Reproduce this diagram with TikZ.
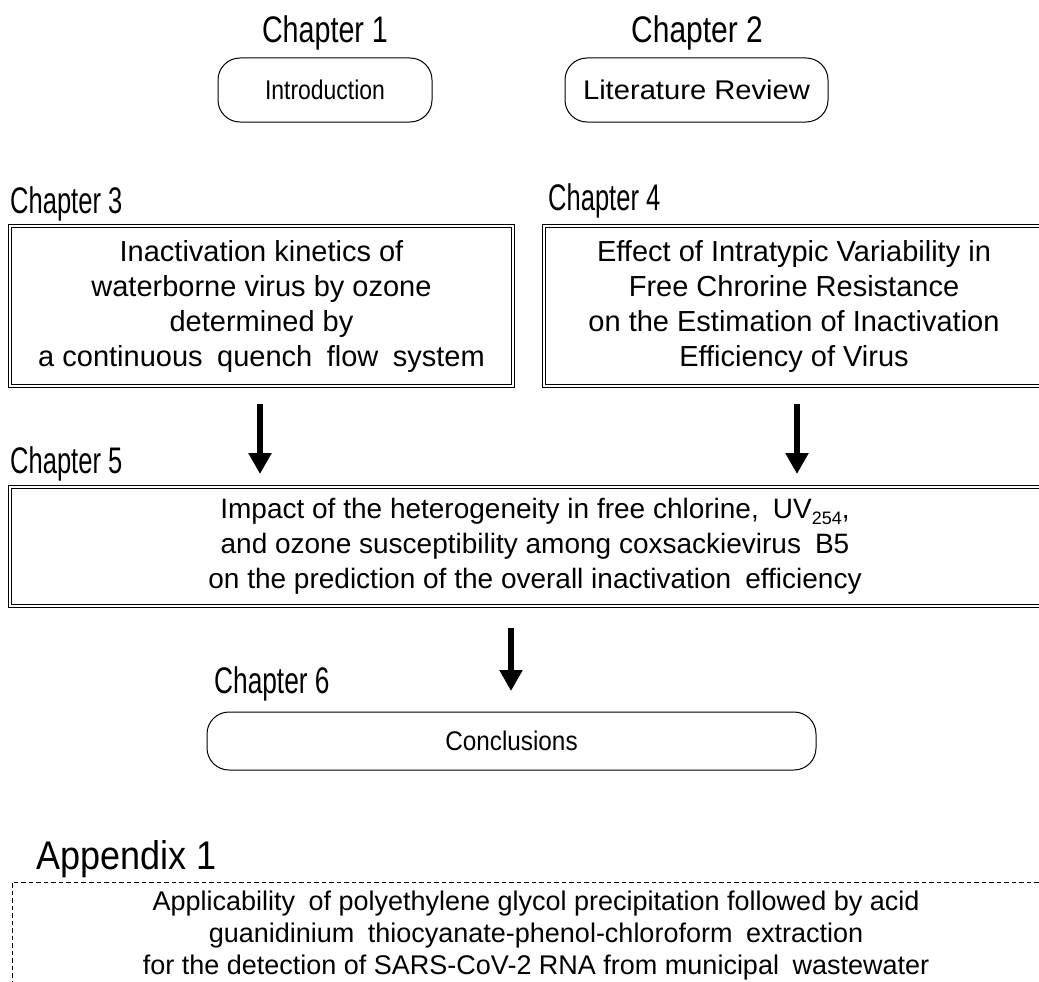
\documentclass[tikz,border=0pt]{standalone}
\usepackage{fontspec}
\setmainfont{Liberation Sans}
\usetikzlibrary{arrows.meta}
\newcommand{\wsp}{\hskip 0.5em\relax}
\newcommand{\hsc}[2]{\scalebox{#1}[1]{#2}}
\newcommand{\subnum}[1]{\raisebox{-0.22em}{\fontsize{18}{18}\selectfont #1}}
\begin{document}
\begin{tikzpicture}[x=1pt,y=-1pt,
  lab/.style={font=\fontsize{37}{42}\selectfont, inner sep=0pt},
  txt/.style={font=\fontsize{28}{35}\selectfont, align=center, inner sep=0pt},
  stxt/.style={font=\fontsize{27}{30}\selectfont, inner sep=0pt},
  rbox/.style={stxt, draw, line width=1pt, rounded corners=22pt},
  dbox/.style={txt, draw=black, double=white, line width=1.1pt, double distance=1.6pt},
  abox/.style={txt, draw, dash pattern=on 4.5pt off 3pt, line width=0.8pt},
  arr/.style={line width=6pt, -{Triangle[width=22pt,length=21pt]}}
]
\useasboundingbox (0,0) rectangle (1039,982);
\clip (0,0) rectangle (1039,982);

% top row
\node[lab, anchor=base] (l1) at (325,43) {\hsc{0.775}{Chapter 1}};
\node[rbox, minimum width=214pt, minimum height=64pt] (c1) at (325,90) {\hsc{0.85}{Introduction}};
\node[lab, anchor=base] (l2) at (697,43) {\hsc{0.81}{Chapter 2}};
\node[rbox, minimum width=263pt, minimum height=64pt] (c2) at (696.5,90) {\hsc{1.08}{Literature Review}};

% chapters 3 and 4
\node[lab, anchor=base west] (l3) at (10,213) {\hsc{0.69}{Chapter 3}};
\node[dbox, font=\fontsize{29}{35}\selectfont, minimum width=503pt, minimum height=160pt] (c3) at (261.5,306)
  {Inactivation kinetics of\\ waterborne virus by ozone\\ determined by\\
   a continuous\wsp quench\wsp flow\wsp system};
\node[lab, anchor=base west] (l4) at (548,210) {\hsc{0.69}{Chapter 4}};
\node[dbox, font=\fontsize{29}{35}\selectfont, minimum width=500pt, minimum height=160pt] (c4) at (794,306)
  {Effect of Intratypic Variability in\\ Free Chrorine Resistance\\
   on the Estimation of Inactivation\\ Efficiency of Virus};

% arrows to chapter 5
\coordinate (a1s) at (260,404);
\coordinate (a1e) at (260,474);
\coordinate (a2s) at (797,404);
\coordinate (a2e) at (797,474);
\draw[arr] (a1s) -- (a1e);
\draw[arr] (a2s) -- (a2e);

% chapter 5
\node[lab, anchor=base west] (l5) at (10,473) {\hsc{0.69}{Chapter 5}};
\node[dbox, minimum width=1050pt, minimum height=119pt] (c5) at (535,546.5)
  {Impact of the heterogeneity in free chlorine,\wsp UV\subnum{254},\\
   and ozone susceptibility among coxsackievirus\wsp B5\\
   on the prediction of the overall inactivation\wsp efficiency};

% arrow to chapter 6
\coordinate (a3s) at (511,628);
\coordinate (a3e) at (511,691);
\draw[arr] (a3s) -- (a3e);

% chapter 6
\node[lab, anchor=base west] (l6) at (214,693) {\hsc{0.71}{Chapter 6}};
\node[rbox, minimum width=609pt, minimum height=58pt] (c6) at (511.5,741) {\hsc{0.9}{Conclusions}};

% appendix
\node[lab, anchor=base west, font=\fontsize{40}{44}\selectfont] (l7) at (36,869) {\hsc{0.9}{Appendix 1}};
\node[abox, font=\fontsize{27}{32}\selectfont, minimum width=1048pt, minimum height=108pt] (ap) at (536,936)
  {Applicability\wsp of polyethylene glycol precipitation followed by acid\\
   guanidinium\wsp thiocyanate-phenol-chloroform\wsp extraction\\
   for the detection of SARS-CoV-2 RNA from municipal\wsp wastewater};
\end{tikzpicture}
\end{document}
